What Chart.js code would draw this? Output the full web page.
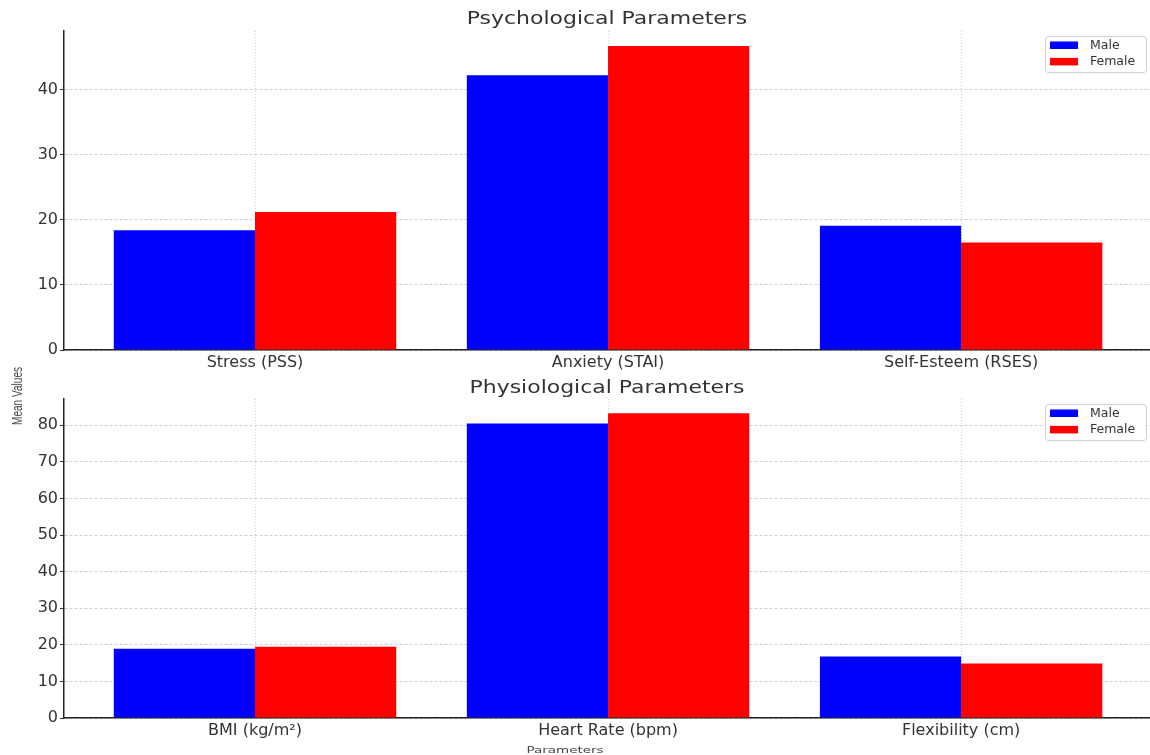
<!DOCTYPE html>
<html>
<head>
<meta charset="utf-8">
<script src="https://cdn.jsdelivr.net/npm/chart.js@4/dist/chart.umd.min.js"></script>
<style>
  body { margin: 0; background: #fff; width: 1150px; height: 755px; position: relative; overflow: hidden; }
  #psychChart { position: absolute; left: 0; top: 0; }
  #physChart { position: absolute; left: 0; top: 372px; }
  .ylab { position: absolute; left: 17px; top: 396px; transform: translate(-50%, -50%) rotate(-90deg) scaleX(0.72);
          font: 14px "Liberation Sans", sans-serif; color: #444; white-space: nowrap; }
  .xlab { position: absolute; left: 565px; top: 749px; transform: translate(-50%, -50%) scaleX(1.42);
          font: 9.5px "DejaVu Sans", sans-serif; color: #444; white-space: nowrap; }
</style>
</head>
<body>
<canvas id="psychChart" width="1150" height="372"></canvas>
<canvas id="physChart" width="1150" height="383"></canvas>
<div class="ylab">Mean Values</div>
<div class="xlab">Parameters</div>
<script>
// data
const seriesNames = ["Male", "Female"];
const seriesColors = ["#0000ff", "#ff0000"];

const psychLabels = ["Stress (PSS)", "Anxiety (STAI)", "Self-Esteem (RSES)"];
const psychMale = [18.4, 42.2, 19.1];
const psychFemale = [21.2, 46.7, 16.5];

const physLabels = ["BMI (kg/m²)", "Heart Rate (bpm)", "Flexibility (cm)"];
const physMale = [18.9, 80.5, 16.8];
const physFemale = [19.5, 83.3, 14.9];

// legend drawn as a boxed list in the top right corner of the plot
const boxLegend = {
  id: "boxLegend",
  afterDraw(chart) {
    const ctx = chart.ctx;
    const area = chart.chartArea;
    const w = 101, h = 36;
    const x = area.right - w - 4, y = area.top + 5;
    ctx.save();
    ctx.fillStyle = "rgba(255,255,255,0.85)";
    ctx.strokeStyle = "#d0d0d0";
    ctx.lineWidth = 1;
    ctx.beginPath();
    ctx.roundRect(x + 0.5, y + 0.5, w, h, 3);
    ctx.fill();
    ctx.stroke();
    ctx.font = '12.5px "DejaVu Sans"';
    ctx.textBaseline = "middle";
    chart.data.datasets.forEach((ds, i) => {
      ctx.fillStyle = ds.backgroundColor;
      ctx.fillRect(x + 5, y + 5.5 + i * 16.4, 28, 7.5);
      ctx.fillStyle = "#333";
      ctx.fillText(ds.label, x + 45, y + 9.8 + i * 16.4);
    });
    ctx.restore();
  }
};

// title centred over the plot area, a little wider than tall like the original
const plotTitle = {
  id: "plotTitle",
  afterDraw(chart, args, opts) {
    const ctx = chart.ctx;
    const area = chart.chartArea;
    ctx.save();
    ctx.translate((area.left + area.right) / 2, opts.baseline);
    ctx.scale(1.22, 1);
    ctx.font = '18px "DejaVu Sans"';
    ctx.fillStyle = "#333";
    ctx.textAlign = "center";
    ctx.textBaseline = "alphabetic";
    ctx.fillText(opts.text, 0, 0);
    ctx.restore();
  }
};

const tickFont = { family: "DejaVu Sans", size: 16 };

const makeChart = (id, title, labels, male, female, yMax, topPad, baseline, xHeight) => {
  const ctx = document.getElementById(id).getContext("2d");
  const values = [male, female];
  return new Chart(ctx, {
    type: "bar",
    data: {
      datasets: seriesNames.map((name, s) => ({
        label: name,
        backgroundColor: seriesColors[s],
        borderWidth: 0,
        data: labels.map((l, i) => ({ x: i, y: values[s][i] })),
      })),
    },
    options: {
      responsive: false,
      animation: false,
      layout: { padding: { top: topPad, left: 0, right: 0, bottom: 0 } },
      datasets: { bar: { categoryPercentage: 0.8, barPercentage: 1.0 } },
      plugins: {
        legend: { display: false },
        tooltip: { enabled: false },
        title: { display: false },
        plotTitle: { text: title, baseline: baseline },
      },
      scales: {
        x: {
          type: "linear",
          min: -0.541,
          max: 2.535,
          offset: false,
          z: 1,
          grid: { offset: false, color: "rgba(170,170,170,0.55)", drawTicks: false },
          border: { color: "#222", width: 1.5, dash: [1, 2] },
          ticks: {
            stepSize: 1,
            includeBounds: false,
            autoSkip: false,
            maxRotation: 0,
            padding: 3,
            color: "#333",
            font: tickFont,
            callback: (v) => labels[v] ?? "",
          },
          afterFit: (scale) => { scale.height = xHeight; },
        },
        y: {
          min: 0,
          max: yMax,
          z: 1,
          grid: { color: "rgba(170,170,170,0.55)", tickColor: "#333", tickLength: 4 },
          border: { color: "#222", width: 1.5, dash: [3, 2] },
          ticks: {
            stepSize: 10,
            includeBounds: false,
            padding: 2,
            color: "#333",
            font: tickFont,
          },
          afterFit: (scale) => { scale.width = 64; },
        },
      },
    },
    plugins: [boxLegend, plotTitle],
  });
};

makeChart("psychChart", "Psychological Parameters", psychLabels, psychMale, psychFemale, 49, 31, 24.4, 22);
makeChart("physChart", "Physiological Parameters", physLabels, physMale, physFemale, 87.2, 27, 21.3, 37);
</script>
</body>
</html>
